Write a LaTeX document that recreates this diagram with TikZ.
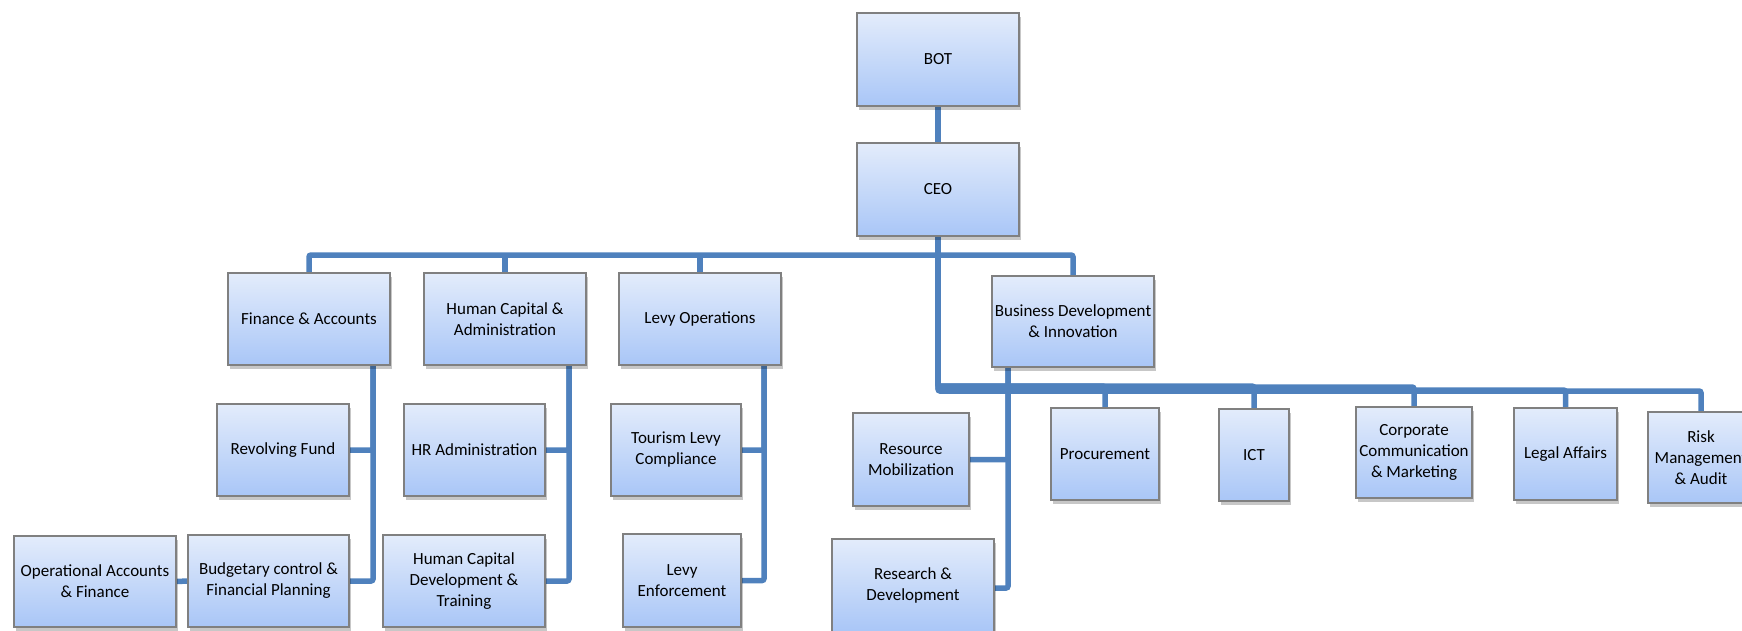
\documentclass[tikz,border=0pt]{standalone}
\usepackage{fontspec}
\setmainfont{Carlito}
\usetikzlibrary{shadows}
\pgfdeclarelayer{bg}
\pgfsetlayers{bg,main}
\definecolor{conn}{HTML}{4F81BD}
\definecolor{boxtop}{HTML}{E3ECFB}
\definecolor{boxbot}{HTML}{A9C6F7}
\definecolor{boxline}{HTML}{808080}
\tikzset{
  unit/.style={draw=boxline, line width=1.2pt, top color=boxtop, bottom color=boxbot,
    align=center, inner sep=1pt, font=\fontsize{17}{21}\selectfont,
    drop shadow={shadow xshift=2pt, shadow yshift=-4pt, opacity=0.22, fill=black}},
  dims/.style 2 args={minimum width=#1pt, minimum height=#2pt},
  link/.style={draw=conn, line width=5.5pt, rounded corners=2pt},
}
\begin{document}
\begin{tikzpicture}[x=1pt,y=-1pt]
\useasboundingbox (0,0) rectangle (1742,630);
\clip (0,0) rectangle (1742,630);
% top levels
\node[unit, dims={162}{93}] (bot) at (938,59.5) {BOT};
\node[unit, dims={162}{93}] (ceo) at (938,189.5) {CEO};
% directorates
\node[unit, dims={162}{92}] (fin) at (309,319) {Finance \& Accounts};
\node[unit, dims={162}{92}] (hc) at (505,319) {Human Capital \&\\Administration};
\node[unit, dims={162}{92}] (levy) at (700,319) {Levy Operations};
\node[unit, dims={162}{91}] (bdi) at (1073,321.5) {Business Development\\\& Innovation};
% finance units
\node[unit, dims={132}{92}] (rev) at (283,450) {Revolving Fund};
\node[unit, dims={161}{92}] (bud) at (268.5,581) {Budgetary control \&\\Financial Planning};
\node[unit, dims={162}{91}] (opa) at (95,581.5) {Operational Accounts\\\& Finance};
% HC units
\node[unit, dims={141}{92}] (hra) at (474.5,450) {HR Administration};
\node[unit, dims={162}{92}] (hcd) at (464,581) {Human Capital\\Development \&\\Training};
% levy units
\node[unit, dims={130}{92}] (tlc) at (676,450) {Tourism Levy\\Compliance};
\node[unit, dims={118}{93}] (lenf) at (682,580.5) {Levy\\Enforcement};
% BD&I units
\node[unit, dims={116}{93}] (rmob) at (911,459.5) {Resource\\Mobilization};
\node[unit, dims={162}{93}] (rnd) at (913,585.5) {Research \&\\Development};
% CEO direct units
\node[unit, dims={108}{92}] (proc) at (1105,454) {Procurement};
\node[unit, dims={70}{92}] (ict) at (1254,455) {ICT};
\node[unit, dims={116}{91}] (corp) at (1414,452.5) {Corporate\\Communication\\\& Marketing};
\node[unit, dims={103}{92}] (legal) at (1565.5,454) {Legal Affairs};
\node[unit, dims={106}{91}] (risk) at (1701,457.5) {Risk\\Management\\\& Audit};

\begin{pgfonlayer}{bg}
  \draw[link] (bot) -- (ceo);
  % upper bar
  \coordinate (tb) at (938,255);
  \draw[link] (ceo.south) -- (tb);
  \draw[link] (fin.north) |- (tb) -| (bdi.north);
  \draw[link] (hc.north) -- (hc.north |- tb);
  \draw[link] (levy.north) -- (levy.north |- tb);
  % lower bar
  \coordinate (j1) at (938,386);
  \coordinate (j2) at (938,387);
  \coordinate (j3) at (938,390);
  \coordinate (j4) at (938,391);
  \draw[link] (ceo.south) -- (j4) -| (risk.north);
  \draw[link] (ceo.south) -- (j3) -| (legal.north);
  \draw[link] (ceo.south) -- (j2) -| (corp.north);
  \draw[link] (ceo.south) -- (j1) -| (ict.north);
  \draw[link] (ceo.south) -- (j1) -| (proc.north);
  % finance branch
  \coordinate (fv) at (373,365);
  \draw[link] (fv) |- (rev.east);
  \draw[link] (fv) |- (bud.east);
  \draw[link] (opa.east) -- (bud.west);
  % HC branch
  \coordinate (hv) at (569,365);
  \draw[link] (hv) |- (hra.east);
  \draw[link] (hv) |- (hcd.east);
  % levy branch
  \coordinate (lv) at (764,365);
  \draw[link] (lv) |- (tlc.east);
  \draw[link] (lv) |- (lenf.east);
  % BD&I branch
  \coordinate (bv) at (1008,367);
  \draw[link] (bv) |- (rmob.east);
  \draw[link] (bv) |- ([yshift=-2.5pt]rnd.east);
\end{pgfonlayer}
\end{tikzpicture}
\end{document}
